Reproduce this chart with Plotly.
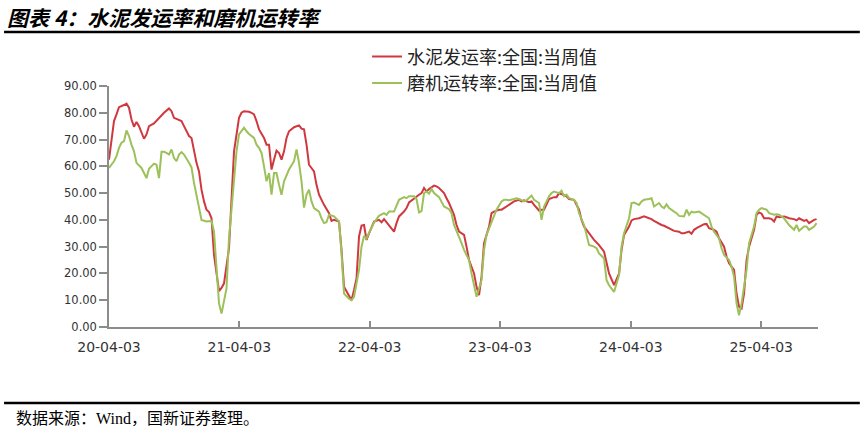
import pandas as pd
import plotly.graph_objects as go

# Weekly series, x given as week number counted from 2020-04-03
start_date = "2020-04-03"

cement_weeks = [0, 2, 3, 4, 6, 7, 8, 9, 10, 11, 12, 13, 14, 15, 16, 18, 20, 22, 24, 25, 26, 28, 29, 30, 32, 33, 34, 35, 36, 37, 38, 39, 40, 41, 42, 44, 45, 46, 48, 49, 50, 52, 53, 54, 56, 57, 58, 59, 60, 62, 63, 64, 65, 66, 67, 68, 69, 70, 71, 72, 74, 76, 77, 78, 79, 80, 82, 83, 84, 86, 88, 89, 90, 92, 93, 94, 96, 97, 98, 99, 100, 101, 102, 103, 104, 105, 106, 108, 109, 110, 112, 113, 114, 115, 116, 118, 119, 120, 122, 123, 124, 125, 126, 127, 128, 130, 131, 132, 134, 135, 136, 138, 139, 140, 142, 143, 144, 146, 147, 148, 149, 150, 152, 153, 154, 156, 157, 158, 160, 161, 162, 164, 165, 166, 168, 169, 170, 172, 173, 174, 175, 176, 178, 179, 180, 182, 183, 184, 186, 188, 189, 190, 192, 193, 194, 196, 197, 198, 200, 201, 202, 204, 205, 206, 208, 209, 210, 212, 213, 214, 216, 217, 218, 220, 221, 222, 224, 225, 226, 228, 229, 230, 232, 233, 234, 235, 236, 238, 239, 240, 242, 243, 244, 246, 247, 248, 250, 251, 252, 253, 254, 255, 256, 258, 259, 260, 261, 262, 264, 265, 266, 267, 268, 270, 271, 272, 274, 275, 276, 278, 279, 280, 282, 283]
cement_values = [62.5, 76.9, 79.4, 82.1, 82.9, 83.4, 81.9, 77.5, 74.8, 76.6, 75.0, 72.5, 70.3, 71.9, 75.0, 76.0, 78.1, 80.0, 81.6, 80.6, 78.1, 77.3, 76.9, 75.0, 71.3, 70.6, 65.6, 61.3, 58.1, 51.3, 46.9, 43.8, 42.9, 40.6, 26.9, 13.4, 14.6, 16.3, 29.4, 49.4, 65.6, 78.1, 80.0, 80.6, 80.4, 80.0, 79.4, 76.9, 73.8, 70.6, 68.1, 68.1, 58.8, 62.5, 65.9, 65.0, 62.5, 65.6, 70.6, 73.1, 74.6, 75.3, 74.1, 73.8, 68.1, 60.6, 58.1, 53.1, 49.4, 45.6, 42.5, 39.6, 40.0, 39.4, 28.8, 15.0, 11.3, 10.0, 13.8, 18.1, 33.8, 37.9, 38.1, 32.5, 35.0, 37.5, 39.4, 40.0, 39.1, 40.3, 38.1, 36.9, 35.6, 38.8, 41.3, 43.1, 44.4, 46.5, 48.1, 48.8, 49.4, 50.0, 51.9, 50.6, 51.5, 52.8, 52.5, 51.9, 50.0, 48.1, 46.3, 41.9, 38.1, 35.6, 34.4, 30.0, 25.0, 20.0, 15.0, 11.9, 18.8, 31.3, 37.5, 42.5, 43.1, 43.8, 43.8, 44.4, 45.6, 46.3, 46.9, 47.5, 46.9, 47.3, 46.6, 46.9, 45.6, 43.5, 43.8, 43.8, 45.6, 47.8, 48.5, 48.5, 50.0, 49.0, 48.8, 47.8, 47.5, 43.8, 40.0, 37.5, 35.0, 33.8, 32.5, 30.6, 29.4, 28.1, 20.0, 17.5, 15.6, 20.0, 28.8, 34.4, 37.5, 39.8, 40.3, 40.6, 41.0, 41.3, 40.6, 40.3, 39.6, 38.5, 38.1, 37.8, 36.9, 36.5, 35.9, 35.6, 35.0, 35.0, 35.6, 34.8, 36.3, 36.9, 37.5, 38.4, 38.5, 36.9, 36.3, 35.6, 33.1, 30.0, 26.3, 23.8, 21.3, 12.5, 7.5, 6.9, 12.5, 25.0, 30.0, 36.3, 41.9, 42.8, 42.3, 40.6, 40.6, 40.3, 39.4, 41.3, 41.0, 41.3, 41.0, 40.6, 40.3, 39.8, 40.6, 39.6, 40.0, 38.8, 40.0, 40.3]

mill_weeks = [0, 2, 3, 4, 5, 6, 7, 8, 9, 10, 11, 12, 13, 14, 15, 16, 18, 19, 20, 21, 22, 23, 24, 25, 26, 27, 28, 29, 30, 32, 33, 34, 35, 36, 37, 39, 41, 42, 43, 44, 45, 47, 48, 50, 51, 52, 54, 55, 56, 58, 59, 60, 61, 62, 63, 64, 65, 66, 67, 68, 69, 70, 71, 72, 74, 75, 76, 77, 78, 79, 80, 81, 82, 84, 85, 86, 87, 88, 90, 91, 92, 93, 94, 96, 97, 98, 100, 101, 102, 103, 105, 106, 108, 110, 111, 112, 114, 115, 116, 118, 119, 120, 122, 123, 124, 125, 126, 127, 128, 129, 130, 132, 133, 134, 136, 137, 138, 140, 141, 142, 144, 145, 146, 147, 149, 150, 151, 153, 154, 155, 157, 158, 159, 160, 162, 163, 164, 166, 167, 168, 169, 170, 172, 173, 174, 176, 177, 178, 180, 181, 182, 183, 184, 186, 187, 188, 190, 191, 192, 194, 195, 196, 198, 199, 200, 202, 204, 205, 206, 208, 209, 210, 212, 213, 214, 216, 217, 218, 220, 221, 222, 223, 224, 226, 227, 228, 230, 231, 232, 233, 234, 236, 237, 238, 240, 241, 242, 244, 245, 246, 248, 249, 250, 251, 252, 253, 255, 256, 258, 259, 260, 261, 263, 264, 266, 267, 268, 270, 271, 272, 274, 275, 276, 278, 279, 280, 282, 283]
mill_values = [59.4, 61.9, 63.8, 66.9, 68.8, 69.4, 73.4, 71.3, 68.1, 65.6, 61.3, 60.3, 59.4, 57.5, 55.6, 59.1, 61.0, 60.6, 55.6, 65.4, 65.4, 65.0, 64.4, 66.3, 63.1, 61.9, 64.4, 65.3, 64.4, 61.3, 59.6, 53.8, 49.4, 45.6, 40.0, 39.4, 39.6, 35.6, 21.9, 8.8, 5.0, 14.4, 33.1, 53.1, 65.6, 71.9, 74.4, 73.1, 72.1, 70.6, 68.1, 66.9, 65.0, 60.0, 54.4, 57.5, 49.4, 57.5, 57.5, 53.1, 49.4, 54.4, 56.9, 58.8, 61.9, 66.3, 61.3, 54.4, 44.6, 49.4, 51.3, 46.9, 44.4, 43.1, 40.6, 38.8, 39.1, 41.9, 41.3, 40.3, 39.4, 27.5, 12.5, 10.6, 10.0, 11.3, 21.3, 30.0, 34.0, 33.1, 36.9, 39.0, 41.5, 42.5, 41.9, 43.1, 43.1, 45.6, 47.5, 48.5, 48.1, 48.8, 48.8, 47.8, 42.8, 43.3, 50.0, 50.6, 49.8, 51.5, 50.0, 48.5, 46.9, 45.0, 44.0, 42.5, 38.1, 33.8, 31.3, 28.8, 25.0, 20.0, 15.6, 11.3, 17.5, 28.8, 34.4, 38.8, 41.3, 43.8, 46.9, 47.5, 47.5, 47.3, 47.8, 48.1, 47.8, 46.9, 47.3, 48.4, 49.1, 47.5, 46.3, 40.0, 45.0, 48.8, 50.0, 50.6, 50.0, 50.9, 48.8, 49.4, 48.1, 47.5, 46.3, 42.5, 38.1, 34.4, 30.6, 30.0, 29.4, 27.5, 25.6, 17.5, 15.6, 13.1, 19.4, 30.0, 35.0, 40.6, 46.3, 46.5, 45.6, 46.9, 47.5, 47.8, 48.1, 45.0, 46.3, 45.0, 44.4, 45.8, 44.4, 43.1, 42.5, 41.5, 41.3, 43.8, 41.9, 43.1, 42.8, 43.1, 42.5, 41.9, 40.6, 37.5, 35.6, 33.1, 29.4, 26.9, 25.0, 22.5, 18.8, 8.8, 4.4, 8.8, 21.3, 31.3, 37.5, 42.5, 43.8, 44.4, 43.8, 42.5, 41.9, 42.1, 41.9, 40.6, 39.4, 38.1, 36.3, 38.1, 35.9, 37.5, 37.5, 36.3, 37.5, 38.8]

tick_dates = ["2020-04-03", "2021-04-03", "2022-04-03", "2023-04-03", "2024-04-03", "2025-04-03"]
tick_labels = ["20-04-03", "21-04-03", "22-04-03", "23-04-03", "24-04-03", "25-04-03"]
y_ticks = [0, 10, 20, 30, 40, 50, 60, 70, 80, 90]

series_names = ["水泥发运率:全国:当周值", "磨机运转率:全国:当周值"]

t0 = pd.Timestamp(start_date)
cement_dates = [t0 + pd.Timedelta(days=7 * w) for w in cement_weeks]
mill_dates = [t0 + pd.Timedelta(days=7 * w) for w in mill_weeks]
x_end = max(cement_dates[-1], mill_dates[-1]) + pd.Timedelta(days=4)

fig = go.Figure()
fig.add_trace(go.Scatter(x=cement_dates, y=cement_values, mode="lines",
                         name=series_names[0], line=dict(color="#D0383F", width=2)))
fig.add_trace(go.Scatter(x=mill_dates, y=mill_values, mode="lines",
                         name=series_names[1], line=dict(color="#9DC15A", width=2)))

fig.update_layout(
    width=868, height=437,
    margin=dict(l=109, r=50, t=86, b=110),
    paper_bgcolor="white", plot_bgcolor="white",
    showlegend=True,
    legend=dict(x=0.364, y=1.198, xanchor="left", yanchor="top",
                font=dict(family="Noto Sans CJK SC", size=18, color="#222222"),
                bgcolor="rgba(0,0,0,0)", tracegroupgap=6, traceorder="normal"),
    xaxis=dict(type="date", range=[t0, x_end], tickmode="array",
               tickvals=tick_dates, ticktext=tick_labels,
               showgrid=False, zeroline=False, showline=True,
               linecolor="#8C8C8C", linewidth=1.5,
               ticks="inside", ticklen=6, tickcolor="#8C8C8C", tickwidth=1.5,
               ticklabelstandoff=6,
               tickfont=dict(family="DejaVu Sans", size=14, color="#333333")),
    yaxis=dict(range=[0, 90], tickmode="array", tickvals=y_ticks,
               tickformat=".2f", showgrid=False, zeroline=False, showline=True,
               linecolor="#8C8C8C", linewidth=1.5,
               ticks="outside", ticklen=8, tickcolor="#8C8C8C", tickwidth=1.5,
               tickfont=dict(family="DejaVu Sans", size=11.5, color="#333333")),
)

# Title and footer
fig.add_annotation(text="图表 4：水泥发运率和磨机运转率", xref="paper", yref="paper",
                   x=-0.146, y=1.286, xanchor="left", yanchor="middle", showarrow=False,
                   font=dict(family="Noto Sans CJK SC", size=21, color="#000000",
                             weight="bold", style="italic"))
fig.add_annotation(text="数据来源：Wind，国新证券整理。", xref="paper", yref="paper",
                   x=-0.134, y=-0.378, xanchor="left", yanchor="middle", showarrow=False,
                   font=dict(family="Liberation Serif, Noto Sans CJK SC", size=16, color="#000000"))
fig.add_shape(type="line", xref="paper", yref="paper", x0=-0.148, x1=1.059, y0=1.224, y1=1.224,
              line=dict(color="#000000", width=2.5))
fig.add_shape(type="line", xref="paper", yref="paper", x0=-0.148, x1=1.059, y0=-0.315, y1=-0.315,
              line=dict(color="#000000", width=2.5))

fig.write_html("out.html", config={"displayModeBar": False},
               post_script="document.body.style.margin='0px';")
